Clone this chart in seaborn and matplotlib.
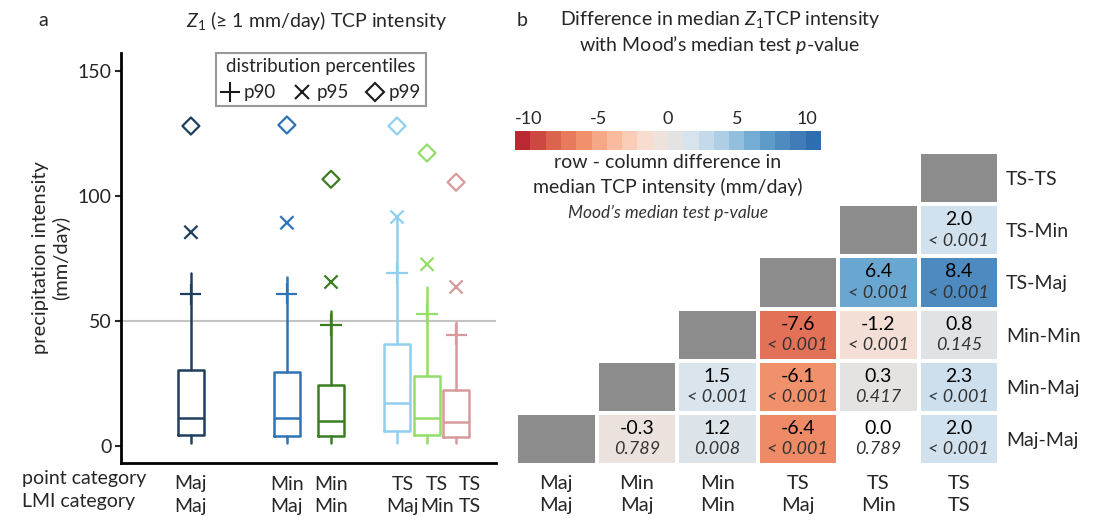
import numpy as np
import pandas as pd
import matplotlib
matplotlib.use("Agg")
import matplotlib.pyplot as plt
import seaborn as sns
from matplotlib.colors import LinearSegmentedColormap, ListedColormap
from matplotlib.lines import Line2D

# ---- panel a: box summary (mm/day) ----
box_labels = ["Maj\nMaj", "Min\nMaj", "Min\nMin", "TS\nMaj", "TS\nMin", "TS\nTS"]
box_colors = ["#1f3f5e", "#2e74b5", "#3b7d23", "#8fd0f0", "#93dd6b", "#d69a9c"]
q1 = [4.5, 4.1, 4.1, 6.1, 4.4, 3.7]
median = [11.3, 11.3, 10.1, 17.2, 11.3, 9.6]
q3 = [30.4, 29.6, 24.4, 40.8, 28.0, 22.4]
whis_lo = [1.4, 1.4, 1.4, 1.4, 1.4, 1.4]
whis_hi = [69.3, 67.7, 54.1, 91.6, 63.5, 49.7]
p90 = [60.7, 60.9, 48.4, 69.2, 52.9, 44.5]
p95 = [85.5, 89.3, 65.6, 91.6, 72.7, 63.6]
p99 = [128.0, 128.4, 106.7, 128.0, 117.2, 105.5]

# ---- panel b: row - column median difference and p-values ----
categories = ["Maj-Maj", "Min-Maj", "Min-Min", "TS-Maj", "TS-Min", "TS-TS"]
diff_majmaj = [-0.3, 1.2, -6.4, 0.0, 2.0]
diff_minmaj = [1.5, -6.1, 0.3, 2.3]
diff_minmin = [-7.6, -1.2, 0.8]
diff_tsmaj = [6.4, 8.4]
diff_tsmin = [2.0]
pval_majmaj = ["0.789", "0.008", "< 0.001", "0.789", "< 0.001"]
pval_minmaj = ["< 0.001", "< 0.001", "0.417", "< 0.001"]
pval_minmin = ["< 0.001", "< 0.001", "0.145"]
pval_tsmaj = ["< 0.001", "< 0.001"]
pval_tsmin = ["< 0.001"]

cbar_colors = ["#b2182b", "#c53b3a", "#d55a48", "#e4735a", "#ef8b66",
               "#f5a37f", "#f9b699", "#fbcab4", "#f9dccf", "#ede2dc",
               "#e3e3e3", "#d6e4ee", "#c2d9eb", "#a8cbe3", "#8cbcdb",
               "#6ba8d1", "#5896c6", "#4a86be", "#3a74b3", "#2268ad"]

sns.set_theme(style="white")
plt.rcParams["font.family"] = ["Lato", "DejaVu Sans"]
plt.rcParams["mathtext.fontset"] = "custom"
plt.rcParams["mathtext.rm"] = "Lato"
plt.rcParams["mathtext.it"] = "Lato:italic"
plt.rcParams["axes.unicode_minus"] = False

W, H = 1093, 520
fig = plt.figure(figsize=(W / 100, H / 100), dpi=100)

# ================= panel a =================
ax = fig.add_axes([121 / W, 1 - 463 / H, 375 / W, 410 / H])
positions = [2.33, 5.53, 7.0, 9.2, 10.2, 11.17]
# the TS labels sit a little right of their boxes so they do not run together
label_shift = [0, 0, 0, 0.2, 0.33, 0.47]
ax.axhline(50, color="#c4c4c4", lw=1.5, zorder=0)
for i, c in enumerate(box_colors):
    st = dict(med=median[i], q1=q1[i], q3=q3[i], whislo=whis_lo[i],
              whishi=whis_hi[i], fliers=[])
    lp = dict(color=c, lw=1.8)
    ax.bxp([st], positions=[positions[i]], widths=0.88, showcaps=False,
           showfliers=False, boxprops=lp, whiskerprops=lp, medianprops=lp,
           manage_ticks=False)
ax.scatter(positions, p90, marker="+", s=230, c=box_colors, linewidths=1.6, zorder=3)
ax.scatter(positions, p95, marker="x", s=90, c=box_colors, linewidths=1.6, zorder=3)
ax.scatter(positions, p99, marker="D", s=75, facecolors="none",
           edgecolors=box_colors, linewidths=1.6, zorder=3)

ax.set_xlim(0, 12.5)
ax.set_ylim(-6.8, 157.2)
ax.set_yticks([0, 50, 100, 150])
ax.set_xticks([p + d for p, d in zip(positions, label_shift)])
ax.set_xticklabels(box_labels, fontsize=14, linespacing=1.4)
ax.tick_params(axis="x", length=0, pad=9)
ax.tick_params(axis="y", length=4, width=1.5, labelsize=14, pad=3, left=True)
for s in ["top", "right"]:
    ax.spines[s].set_visible(False)
for s in ["left", "bottom"]:
    ax.spines[s].set_linewidth(2)
    ax.spines[s].set_color("black")
ax.set_ylabel("precipitation intensity\n(mm/day)", fontsize=14.5, labelpad=5)

handles = [Line2D([], [], marker="+", color="k", ls="none", markersize=15, mew=1.5),
           Line2D([], [], marker="x", color="k", ls="none", markersize=9.5, mew=1.5),
           Line2D([], [], marker="D", color="k", ls="none", markersize=8.7,
                  mfc="none", mew=1.5)]
leg = ax.legend(handles, ["p90", "p95", "p99"], title="distribution percentiles",
                ncol=3, loc="upper center", bbox_to_anchor=(0.533, 1.0),
                borderaxespad=0, fontsize=13.5, title_fontsize=13.5,
                handlelength=1.0, handletextpad=0.25, columnspacing=0.9,
                borderpad=0.25, fancybox=False, framealpha=1)
leg.get_frame().set_edgecolor("#999999")
leg.get_frame().set_linewidth(1.5)

fig.text(22 / W, 1 - 470 / H, "point category\nLMI category", ha="left",
         va="top", fontsize=14, linespacing=1.4)
fig.text(43 / W, 1 - 20 / H, "a", ha="center", va="center", fontsize=14)
fig.text(317 / W, 1 - 20 / H, r"$Z_{\mathit{1}}$ (≥ 1 mm/day) TCP intensity",
         ha="center", va="center", fontsize=14)

# ================= panel b =================
rows = [diff_majmaj, diff_minmaj, diff_minmin, diff_tsmaj, diff_tsmin]
prow = [pval_majmaj, pval_minmaj, pval_minmin, pval_tsmaj, pval_tsmin]
n = len(categories)
M = np.full((n, n), np.nan)
P = np.full((n, n), "", dtype=object)
for i, (vals, ps) in enumerate(zip(rows, prow)):
    M[i, i + 1:] = vals
    P[i, i + 1:] = ps
col_labels = [c.replace("-", "\n") for c in categories]
diff = pd.DataFrame(M, index=categories, columns=col_labels).iloc[::-1]
pvals = pd.DataFrame(P, index=categories, columns=col_labels).iloc[::-1]
diag = pd.DataFrame(np.where(np.eye(n, dtype=bool), 1.0, np.nan),
                    index=categories, columns=col_labels).iloc[::-1]

cmap = LinearSegmentedColormap.from_list("rb", cbar_colors)
axb = fig.add_axes([516 / W, 1 - 465 / H, 483 / W, 313 / H])
sns.heatmap(diff, mask=diff.isna() | (diff == 0), cmap=cmap, vmin=-11, vmax=11,
            cbar=False, linewidths=1.5, linecolor="white", ax=axb)
mesh = axb.collections[0]
sns.heatmap(diag, mask=diag.isna(), cmap=ListedColormap(["#8c8c8c"]),
            cbar=False, linewidths=1.5, linecolor="white", ax=axb)
for r in range(n):
    for j in range(n):
        v = diff.iat[r, j]
        if np.isnan(v):
            continue
        axb.text(j + 0.5, r + 0.3, f"{v:.1f}", ha="center", va="center",
                 fontsize=14, color="black")
        axb.text(j + 0.5, r + 0.7, pvals.iat[r, j], ha="center", va="center",
                 fontsize=13, style="italic", color="#333333")
axb.yaxis.tick_right()
axb.set_yticklabels(diff.index, rotation=0, fontsize=14)
axb.set_xticklabels(col_labels, rotation=0, fontsize=14.5, linespacing=1.35)
axb.tick_params(axis="y", length=0, pad=5)
axb.tick_params(axis="x", length=0, pad=7)
axb.set_xlabel("")
axb.set_ylabel("")

cax = fig.add_axes([515 / W, 1 - 150 / H, 306 / W, 19 / H])
cb = fig.colorbar(mesh, cax=cax, orientation="horizontal",
                  boundaries=np.linspace(-11, 11, 21), ticks=[-10, -5, 0, 5, 10])
cb.outline.set_visible(False)
cax.xaxis.set_ticks_position("top")
cax.tick_params(length=0, labelsize=13, pad=3)

fig.text(668 / W, 1 - 162 / H, "row - column difference in", ha="center",
         va="center", fontsize=14)
fig.text(668 / W, 1 - 187 / H, "median TCP intensity (mm/day)", ha="center",
         va="center", fontsize=14)
fig.text(668 / W, 1 - 213 / H, "Mood’s median test p-value", ha="center",
         va="center", fontsize=12.5, style="italic", color="#333333")

fig.text(522 / W, 1 - 20 / H, "b", ha="center", va="center", fontsize=14)
fig.text(720 / W, 1 - 20 / H, r"Difference in median $Z_{\mathit{1}}$TCP intensity",
         ha="center", va="center", fontsize=14)
fig.text(720 / W, 1 - 45 / H, r"with Mood’s median test $p$-value",
         ha="center", va="center", fontsize=14)

fig.savefig("out.png", dpi=100)
